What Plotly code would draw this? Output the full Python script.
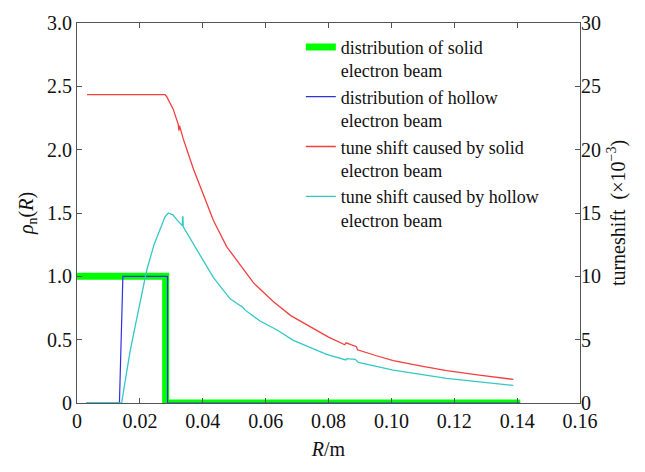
import plotly.graph_objects as go

# Radial distributions (normalised density) of the two electron beams
green_r = [0.0, 0.0282, 0.0282, 0.1410]
green_v = [1.0, 1.0, 0.0, 0.0]

blue_r = [0.0030, 0.0135, 0.0146, 0.0288, 0.0288, 0.1410]
blue_v = [0.0, 0.0, 1.0, 1.0, 0.0, 0.0]

# Tune shift (x1e-3) produced by each beam
red_r = [0.0032, 0.0280, 0.0285, 0.0306, 0.0322, 0.0324, 0.0326, 0.0338, 0.0370,
         0.0402, 0.0434, 0.0476, 0.0518, 0.0521, 0.0561, 0.0582, 0.0625, 0.0680,
         0.0750, 0.0800, 0.0852, 0.0856, 0.0889, 0.0892, 0.0950, 0.1006, 0.1100,
         0.1176, 0.1280, 0.1388]
red_v = [24.35, 24.35, 24.2, 23.2, 22.0, 21.5, 21.9, 20.85, 18.5,
         16.5, 14.4, 12.35, 10.95, 10.8, 9.5, 9.0, 8.0, 6.9,
         5.9, 5.2, 4.6, 4.75, 4.45, 4.2, 3.75, 3.35, 2.9,
         2.55, 2.2, 1.86]

cyan_r = [0.0030, 0.0142, 0.0155, 0.0169, 0.0190, 0.0222, 0.0245, 0.0264, 0.0280,
          0.0290, 0.0305, 0.0320, 0.0335, 0.0336, 0.0337, 0.0338, 0.0370, 0.0402,
          0.0434, 0.0487, 0.0528, 0.0534, 0.0582, 0.0635, 0.0688, 0.0794, 0.0855,
          0.0858, 0.0885, 0.0895, 0.1006, 0.1176, 0.1388]
cyan_v = [0.0, 0.0, 2.0, 4.1, 6.67, 10.5, 12.5, 13.76, 14.7,
          15.0, 14.85, 14.4, 14.0, 14.7, 14.7, 13.9, 12.6, 11.3,
          9.9, 8.22, 7.55, 7.35, 6.47, 5.78, 4.95, 3.84, 3.4,
          3.5, 3.45, 3.2, 2.6, 1.95, 1.39]

x_ticks = [0, 0.02, 0.04, 0.06, 0.08, 0.10, 0.12, 0.14, 0.16]
x_labels = ["0", "0.02", "0.04", "0.06", "0.08", "0.10", "0.12", "0.14", "0.16"]
y_ticks = [0, 0.5, 1.0, 1.5, 2.0, 2.5, 3.0]
y_labels = ["0", "0.5", "1.0", "1.5", "2.0", "2.5", "3.0"]
y2_ticks = [0, 5, 10, 15, 20, 25, 30]

FONT = "Liberation Serif"
AXIS_COLOR = "#555555"
TEXT = dict(family=FONT, size=20, color="#111111")
LEGEND_TEXT = dict(family=FONT, size=18, color="#111111")

fig = go.Figure()
fig.add_trace(go.Scatter(x=green_r, y=green_v, mode="lines",
                         line=dict(color="#00ff00", width=7),
                         name="distribution of solid<br>electron beam"))
fig.add_trace(go.Scatter(x=blue_r, y=blue_v, mode="lines",
                         line=dict(color="#3030e0", width=1.2),
                         name="distribution of hollow<br>electron beam"))
fig.add_trace(go.Scatter(x=red_r, y=red_v, mode="lines", yaxis="y2",
                         line=dict(color="#f23f3f", width=1.3),
                         name="tune shift caused by solid<br>electron beam"))
fig.add_trace(go.Scatter(x=cyan_r, y=cyan_v, mode="lines", yaxis="y2",
                         line=dict(color="#33c8c8", width=1.3),
                         name="tune shift caused by hollow<br>electron beam"))

fig.update_layout(
    width=645, height=472,
    margin=dict(l=77, r=65, t=15, b=69),
    paper_bgcolor="white", plot_bgcolor="white",
    font=TEXT,
    showlegend=True,
    legend=dict(x=0.445, y=0.985, xanchor="left", yanchor="top",
                bgcolor="rgba(0,0,0,0)", borderwidth=0,
                valign="top", tracegroupgap=0, font=LEGEND_TEXT),
    xaxis=dict(range=[0, 0.16], tickvals=x_ticks, ticktext=x_labels,
               ticks="inside", ticklen=5, tickcolor=AXIS_COLOR,
               showline=True, linecolor=AXIS_COLOR, linewidth=1, mirror="ticks",
               showgrid=False, zeroline=False, tickfont=TEXT,
               title=dict(text="<i>R</i>/m", standoff=10, font=TEXT)),
    yaxis=dict(range=[0, 3.0], tickvals=y_ticks, ticktext=y_labels,
               ticks="inside", ticklen=5, tickcolor=AXIS_COLOR,
               showline=True, linecolor=AXIS_COLOR, linewidth=1, mirror=True,
               showgrid=False, zeroline=False, tickfont=TEXT,
               title=dict(text="<i>ρ</i><sub>n</sub>(<i>R</i>)", standoff=8, font=TEXT)),
    yaxis2=dict(range=[0, 30], tickvals=y2_ticks, overlaying="y", side="right",
                ticks="inside", ticklen=5, tickcolor=AXIS_COLOR,
                showline=False, showgrid=False, zeroline=False, tickfont=TEXT,
                title=dict(text="turneshift  (×10<sup>−3</sup>)", standoff=10, font=TEXT)),
)

fig.write_html("out.html")
